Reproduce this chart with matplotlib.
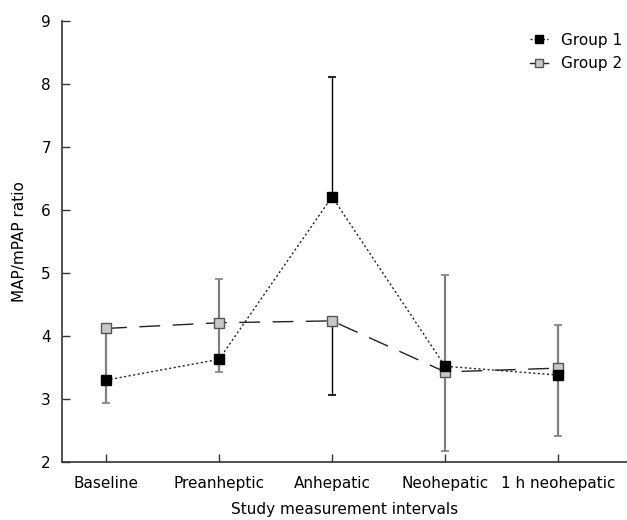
import matplotlib
matplotlib.use("Agg")
import matplotlib.pyplot as plt
from matplotlib.lines import Line2D

categories = ["Baseline", "Preanheptic", "Anhepatic", "Neohepatic", "1 h neohepatic"]
group1 = [3.30, 3.63, 6.21, 3.52, 3.38]
group2 = [4.12, 4.21, 4.24, 3.43, 3.49]
# error bar limits (lower, upper) per category
g1_lower = [2.93, 3.43, 6.21, 2.17, 2.41]
g1_upper = [4.12, 4.90, 8.11, 4.97, 4.18]
g2_lower = [4.12, 4.21, 3.06, 3.43, 3.49]
g2_upper = [4.12, 4.21, 4.24, 3.43, 3.49]
yticks = [2, 3, 4, 5, 6, 7, 8, 9]

plt.rcParams['font.family'] = ['DejaVu Sans']
fig = plt.figure(figsize=(6.27, 5.20), dpi=100)
ax = fig.add_axes([62/627, 1-462/520, 1-62/627, (462-21)/520])

x = list(range(len(categories)))
errcol = ['#808080', '#808080', '#000000', '#808080', '#808080']
errlw = [1.6, 1.6, 1.0, 1.6, 1.6]
for i in x:
    ax.errorbar([x[i]], [group1[i]],
                yerr=[[group1[i]-g1_lower[i]], [g1_upper[i]-group1[i]]],
                fmt='none', ecolor=errcol[i], elinewidth=errlw[i], capsize=3,
                capthick=1.2, zorder=2)
    if g2_lower[i] < group2[i] or g2_upper[i] > group2[i]:
        ax.errorbar([x[i]], [group2[i]],
                    yerr=[[group2[i]-g2_lower[i]], [g2_upper[i]-group2[i]]],
                    fmt='none', ecolor=errcol[i], elinewidth=errlw[i], capsize=3,
                    capthick=1.2, zorder=2)

ax.plot(x, group2, color='#222222', lw=1.0, dashes=(15, 9), zorder=3)
ax.plot(x, group1, color='#222222', lw=1.0, linestyle=(0, (1.5, 1.8)), zorder=3)
ax.plot(x, group2, linestyle='none', marker='s', ms=6.5, mfc='#c8c8c8',
        mec='#555555', mew=1.0, zorder=4)
ax.plot(x, group1, linestyle='none', marker='s', ms=6.5, mfc='black',
        mec='black', mew=1.0, zorder=5)

ax.set_xlim(-0.39, 4.61)
ax.set_ylim(2, 9)
ax.set_yticks(yticks)
ax.set_xticks(x)
ax.set_xticklabels(categories)
ax.tick_params(direction='in', length=6, width=1, labelsize=11, pad=8, color='#333333')
ax.tick_params(axis='x', pad=10)
for s in ['top', 'right']:
    ax.spines[s].set_visible(False)
for s in ['left', 'bottom']:
    ax.spines[s].set_linewidth(1.2)
    ax.spines[s].set_color('#333333')

ax.set_ylabel("MAP/mPAP ratio", fontsize=11, labelpad=10)
ax.set_xlabel("Study measurement intervals", fontsize=11, labelpad=8)

h1 = Line2D([], [], color='#222222', lw=1.0, linestyle=(0, (1.5, 1.5)), marker='s',
            ms=6, mfc='black', mec='black')
h2 = Line2D([], [], color='#222222', lw=1.0, linestyle='-', marker='s',
            ms=6, mfc='#c8c8c8', mec='#555555')
ax.legend([h1, h2], ["Group 1", "Group 2"], loc='upper right',
          bbox_to_anchor=(1.015, 1.005), frameon=False, fontsize=11,
          handlelength=1.2, handletextpad=0.8, labelspacing=0.55)

fig.savefig("out.png", dpi=100)
